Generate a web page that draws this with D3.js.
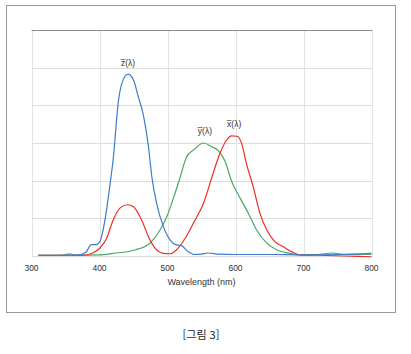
<!DOCTYPE html>
<html lang="ko">
  <head>
    <meta charset="utf-8">
    <script src="https://d3js.org/d3.v7.min.js"></script>
    <style>
      body { margin: 0; background: #fff; }
      text { font-family: "Liberation Sans", Arial, sans-serif; fill: #333; }
    </style>
  </head>
  <body>
    <svg width="411" height="354"></svg>
    <script>
      // colour matching functions as [wavelength, value]
      var zBar = [
        [310, 0.02], [340, 0.02], [370, 0.03], [380, 0.1], [388, 0.3], [395, 0.3],
        [401, 0.4], [408, 0.95], [415, 1.84], [420, 2.55], [428, 4.14], [437, 4.76],
        [442, 4.83], [450, 4.67], [457, 4.23], [464, 3.78], [472, 2.9], [477, 2.1],
        [484, 1.4], [494, 0.78], [504, 0.42], [512, 0.3], [520, 0.28], [530, 0.12],
        [540, 0.04], [550, 0.05], [560, 0.08], [575, 0.05], [600, 0.04], [650, 0.04],
        [700, 0.03], [750, 0.04], [800, 0.07]
      ];
      var xBar = [
        [310, 0.02], [350, 0.02], [376, 0.02], [390, 0.08], [400, 0.2], [410, 0.45],
        [420, 0.95], [430, 1.27], [441, 1.36], [450, 1.31], [457, 1.13], [464, 0.87],
        [472, 0.51], [482, 0.2], [494, 0.07], [504, 0.06], [513, 0.16], [526, 0.47],
        [538, 0.87], [553, 1.4], [567, 2.19], [577, 2.72], [587, 3.08], [594, 3.19],
        [602, 3.18], [609, 2.99], [616, 2.46], [626, 1.84], [636, 1.13], [646, 0.69],
        [658, 0.38], [670, 0.25], [683, 0.11], [695, 0.03], [720, 0.02], [760, 0.0],
        [800, -0.02]
      ];
      var yBar = [
        [310, 0.02], [345, 0.02], [356, 0.06], [365, 0.02], [400, 0.03], [420, 0.07],
        [452, 0.16], [474, 0.34], [489, 0.69], [499, 1.04], [508, 1.5], [518, 2.05],
        [528, 2.63], [538, 2.81], [553, 3.0], [565, 2.9], [575, 2.79], [585, 2.5],
        [594, 2.0], [607, 1.53], [619, 1.13], [631, 0.69], [646, 0.34], [661, 0.16],
        [680, 0.07], [695, 0.03], [720, 0.04], [743, 0.08], [760, 0.04], [800, 0.05]
      ];
      var xTicks = [300, 400, 500, 600, 700, 800];
      var yGrid = [0, 1, 2, 3, 4, 5, 6];

      var svg = d3.select("svg");

      // outer frame
      svg.append("rect")
        .attr("x", 6.5).attr("y", 5.5)
        .attr("width", 389).attr("height", 307)
        .style("fill", "none").style("stroke", "#999");

      var plotLeft = 31.5, plotRight = 371.5, plotTop = 30, plotBottom = 256;

      var xScale = d3.scaleLinear().domain([300, 800]).range([plotLeft, plotRight]);
      var yScale = d3.scaleLinear().domain([0, 6]).range([plotBottom, plotTop]);

      // gridlines
      svg.append("g").selectAll("line")
        .data(xTicks)
        .enter().append("line")
        .attr("x1", function (d) { return Math.round(xScale(d)) + 0.5; })
        .attr("x2", function (d) { return Math.round(xScale(d)) + 0.5; })
        .attr("y1", plotTop).attr("y2", plotBottom)
        .style("stroke", "#e3e3e3");

      svg.append("g").selectAll("line")
        .data(yGrid)
        .enter().append("line")
        .attr("x1", plotLeft).attr("x2", plotRight + 1)
        .attr("y1", function (d) { return Math.round(yScale(d)) + 0.5; })
        .attr("y2", function (d) { return Math.round(yScale(d)) + 0.5; })
        .style("stroke", function (d) { return d == 6 ? "#8c8c8c" : "#dcdcdc"; });

      // x axis labels
      svg.append("g").selectAll("text")
        .data(xTicks)
        .enter().append("text")
        .attr("x", function (d) { return xScale(d); })
        .attr("y", 271)
        .attr("text-anchor", "middle")
        .style("font-size", "8.5px")
        .text(function (d) { return d; });

      svg.append("text")
        .attr("x", (plotLeft + plotRight) / 2)
        .attr("y", 285)
        .attr("text-anchor", "middle")
        .style("font-size", "9px")
        .text("Wavelength (nm)");

      var line = d3.line()
        .x(function (d) { return xScale(d[0]); })
        .y(function (d) { return yScale(d[1]); })
        .curve(d3.curveMonotoneX);

      var series = [
        { data: yBar, color: "#4aa862" },
        { data: xBar, color: "#ee2d24" },
        { data: zBar, color: "#3d7ccc" }
      ];

      svg.append("g").selectAll("path")
        .data(series)
        .enter().append("path")
        .attr("d", function (d) { return line(d.data); })
        .style("fill", "none")
        .style("stroke", function (d) { return d.color; })
        .style("stroke-width", 1.2);

      // curve labels
      var labels = [
        ["z\u0305(\u03bb)", 442, 66],
        ["y\u0305(\u03bb)", 555, 134],
        ["x\u0305(\u03bb)", 598, 127]
      ];
      svg.append("g").selectAll("text")
        .data(labels)
        .enter().append("text")
        .attr("x", function (d) { return xScale(d[1]); })
        .attr("y", function (d) { return d[2]; })
        .attr("text-anchor", "middle")
        .style("font-size", "8.5px")
        .text(function (d) { return d[0]; });

      // caption
      svg.append("text")
        .attr("x", 201)
        .attr("y", 339)
        .attr("text-anchor", "middle")
        .style("font-family", "'Noto Sans CJK KR', sans-serif")
        .style("font-size", "11px")
        .style("fill", "#222")
        .text("[그림 3]");
    </script>
  </body>
</html>
